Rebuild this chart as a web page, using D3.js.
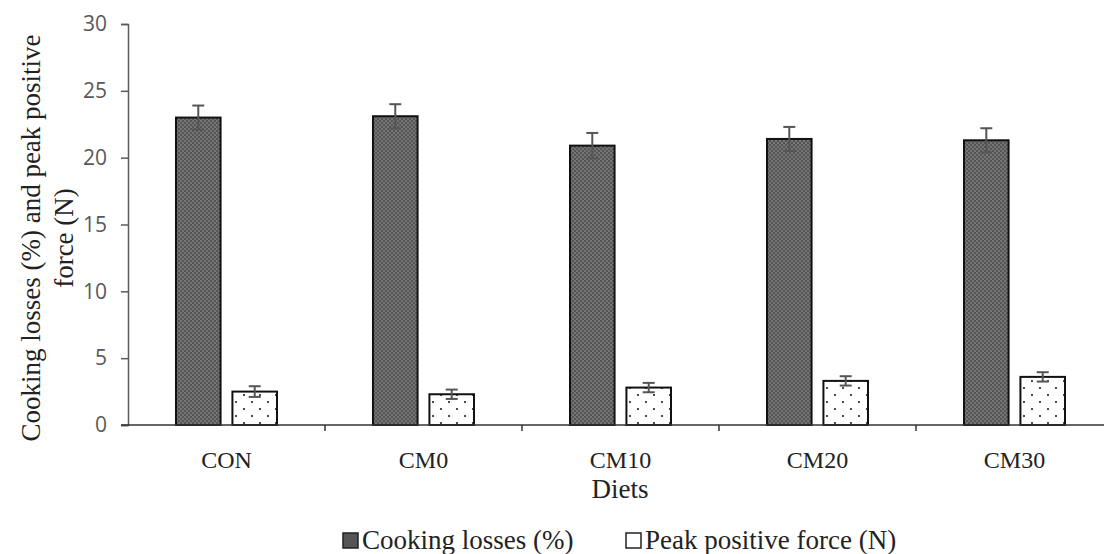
<!DOCTYPE html>
<html>
<head>
<meta charset="utf-8">
<script src="https://cdn.jsdelivr.net/npm/d3@7/dist/d3.min.js"></script>
<style>
  html, body { margin: 0; padding: 0; background: #fff; }
  svg { display: block; }
</style>
</head>
<body>
<svg id="chart" width="1104" height="554"></svg>
<script>
// Diet groups on the x axis
const diets = ["CON", "CM0", "CM10", "CM20", "CM30"];
// Series names
const seriesNames = ["Cooking losses (%)", "Peak positive force (N)"];
// Means and standard errors per diet
const cookingLosses = [23.0, 23.1, 20.9, 21.4, 21.3];
const cookingLossesErr = [0.9, 0.9, 0.95, 0.9, 0.9];
const peakForce = [2.5, 2.3, 2.8, 3.3, 3.6];
const peakForceErr = [0.4, 0.35, 0.35, 0.35, 0.35];
// Y axis ticks
const yTicks = [0, 5, 10, 15, 20, 25, 30];

const rows = diets.map((d, i) => ({
  diet: d,
  values: [
    { key: seriesNames[0], value: cookingLosses[i], err: cookingLossesErr[i] },
    { key: seriesNames[1], value: peakForce[i], err: peakForceErr[i] }
  ]
}));

const svg = d3.select("#chart");
const plotLeft = 128, plotRight = 1113, plotTop = 24, plotBottom = 425;
const serif = "'Liberation Serif', 'Times New Roman', serif";

const defs = svg.append("defs");
// fine stipple for the cooking-loss bars
const dark = defs.append("pattern").attr("id", "darkFill")
  .attr("patternUnits", "userSpaceOnUse").attr("width", 4).attr("height", 4);
dark.append("rect").attr("width", 4).attr("height", 4).attr("fill", "#555");
dark.append("rect").attr("x", 0).attr("y", 0).attr("width", 2).attr("height", 2).attr("fill", "#757575");
dark.append("rect").attr("x", 2).attr("y", 2).attr("width", 2).attr("height", 2).attr("fill", "#757575");
// sparse dots for the peak-force bars
const dots = defs.append("pattern").attr("id", "dotFill")
  .attr("patternUnits", "userSpaceOnUse").attr("width", 16).attr("height", 14);
dots.append("rect").attr("width", 16).attr("height", 14).attr("fill", "#fff");
dots.append("circle").attr("cx", 4).attr("cy", 3).attr("r", 1.1).attr("fill", "#222");
dots.append("circle").attr("cx", 12).attr("cy", 10).attr("r", 1.1).attr("fill", "#222");

const x0 = d3.scaleBand().domain(diets).range([plotLeft, plotRight]).padding(0);
const groupW = 101;
const off = (x0.bandwidth() - groupW) / 2;
const x1 = d3.scaleBand().domain(seriesNames).range([off, off + groupW]).paddingInner(0.21).paddingOuter(0);
const y = d3.scaleLinear().domain([0, 30]).range([plotBottom, plotTop]);

const fills = [ "url(#darkFill)", "url(#dotFill)" ];

// y axis
const yAxis = svg.append("g").attr("transform", `translate(${plotLeft},0)`)
  .call(d3.axisLeft(y).tickValues(yTicks).tickSize(7).tickPadding(14));
yAxis.select(".domain").attr("stroke", "#5a5a5a").attr("stroke-width", 1.5);
yAxis.selectAll(".tick line").attr("stroke", "#5a5a5a").attr("stroke-width", 1.5);
yAxis.selectAll(".tick text")
  .attr("fill", "#595959")
  .style("font-family", "'Open Sans', 'Noto Sans', sans-serif")
  .style("font-size", "21px");

// groups of bars
const groups = svg.append("g").selectAll("g").data(rows).join("g")
  .attr("transform", d => `translate(${x0(d.diet)},0)`);

groups.selectAll("rect").data(d => d.values).join("rect")
  .attr("x", d => x1(d.key))
  .attr("y", d => y(d.value))
  .attr("width", x1.bandwidth())
  .attr("height", d => y(0) - y(d.value))
  .attr("fill", (d, i) => fills[i])
  .attr("stroke", "#111")
  .attr("stroke-width", 2);

// error bars
const eb = groups.selectAll("g.err").data(d => d.values).join("g").attr("class", "err");
eb.append("line")
  .attr("x1", d => x1(d.key) + x1.bandwidth() / 2)
  .attr("x2", d => x1(d.key) + x1.bandwidth() / 2)
  .attr("y1", d => y(d.value - d.err))
  .attr("y2", d => y(d.value + d.err))
  .attr("stroke", "#555").attr("stroke-width", 2);
eb.selectAll("line.cap").data(d => [[d, d.value + d.err], [d, d.value - d.err]]).join("line")
  .attr("class", "cap")
  .attr("x1", d => x1(d[0].key) + x1.bandwidth() / 2 - 6)
  .attr("x2", d => x1(d[0].key) + x1.bandwidth() / 2 + 6)
  .attr("y1", d => y(d[1]))
  .attr("y2", d => y(d[1]))
  .attr("stroke", "#555").attr("stroke-width", 2);

// x axis
const xAxis = svg.append("g").attr("transform", `translate(0,${plotBottom})`)
  .call(d3.axisBottom(x0).tickSize(0).tickPadding(26));
xAxis.select(".domain").remove();
xAxis.append("line").attr("x1", plotLeft - 7).attr("x2", plotRight).attr("y1", 0).attr("y2", 0)
  .attr("stroke", "#333").attr("stroke-width", 1.5);
xAxis.selectAll(".sep").data(diets.slice(1)).join("line").attr("class", "sep")
  .attr("x1", d => x0(d)).attr("x2", d => x0(d))
  .attr("y1", 0).attr("y2", 6)
  .attr("stroke", "#333").attr("stroke-width", 1.5);
xAxis.selectAll(".tick text")
  .attr("fill", "#222")
  .style("font-family", serif)
  .style("font-size", "24px");

// axis titles
svg.append("text").attr("x", 620).attr("y", 498).attr("text-anchor", "middle")
  .attr("fill", "#222").style("font-family", serif).style("font-size", "27px").text("Diets");

const yt = svg.append("text").attr("transform", "translate(0,238) rotate(-90)")
  .attr("text-anchor", "middle").attr("fill", "#222")
  .style("font-family", serif).style("font-size", "27px");
yt.append("tspan").attr("x", 0).attr("y", 40).text("Cooking losses (%) and peak positive");
yt.append("tspan").attr("x", 0).attr("y", 73).text("force (N)");

// legend
const legendX = [343, 626];
const lg = svg.append("g").selectAll("g").data(seriesNames).join("g")
  .attr("transform", (d, i) => `translate(${legendX[i]},533)`);
lg.append("rect").attr("width", 15).attr("height", 15)
  .attr("fill", (d, i) => i === 0 ? "#555" : "#fff")
  .attr("stroke", "#222").attr("stroke-width", 1.5);
lg.append("text").attr("x", 19).attr("y", 16)
  .attr("fill", "#222").style("font-family", serif).style("font-size", "27px")
  .text(d => d);
</script>
</body>
</html>
